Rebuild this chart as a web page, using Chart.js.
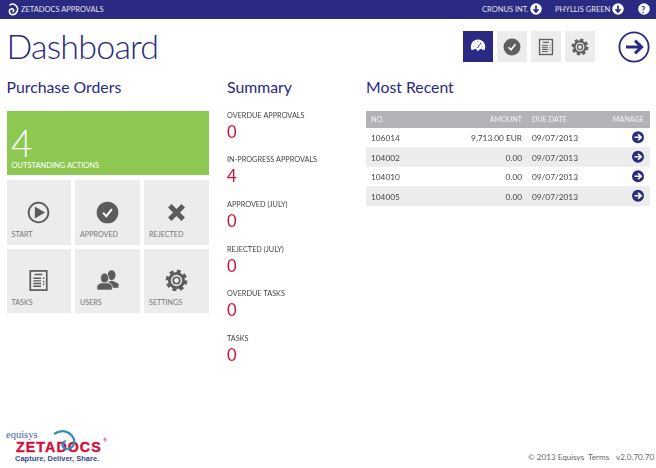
<!DOCTYPE html>
<html><head><meta charset="utf-8">
<script src="https://cdn.jsdelivr.net/npm/chart.js@4"></script>
<style>
html,body{margin:0;padding:0;background:#fff;width:656px;height:468px;overflow:hidden;font-family:Lato,"Open Sans",sans-serif}
.a{position:absolute;white-space:nowrap;line-height:1}
.bar{left:0;top:0;width:656px;height:18.5px;background:#2a2a82}
.nav{color:#e4e4f2;font-size:7.5px;top:5.5px}
.h{color:#2a2a82;font-size:15.8px;top:79.3px}
.tile{background:#ececec}
.tl{color:#777;font-size:7.2px}
canvas{position:absolute;display:block}
svg{position:absolute;overflow:visible}
</style></head><body>
<svg width="0" height="0" style="position:absolute">
<defs>
<symbol id="play" viewBox="-12 -12 24 24"><circle r="10.3" fill="none" stroke="currentColor" stroke-width="1.9"/><path d="M-3.8-6.2 6.8 0-3.8 6.2Z" fill="currentColor"/></symbol>
<symbol id="check" viewBox="-12 -12 24 24"><circle r="11.3" fill="currentColor"/><path d="M-4.6.3-1.3 3.8 4.6-3.6" fill="none" stroke="#fff" stroke-width="2.1"/></symbol>
<symbol id="cross" viewBox="-12 -12 24 24"><path d="M-7-7 7 7M7-7-7 7" stroke="currentColor" stroke-width="5.2" fill="none"/></symbol>
<symbol id="doc" viewBox="-12 -12 24 24"><rect x="-8.6" y="-10" width="17.2" height="20" fill="none" stroke="currentColor" stroke-width="1.8"/><path d="M-4-6.2H4M-5.4-2.4H2.6M-5.4.4H2.6M-5.4 3.2H2.6M-5.4 6H2.6M4.6-2.4H6M4.6 1H6M4.6 4H6" stroke="currentColor" stroke-width="1.5" fill="none"/></symbol>
<symbol id="users" viewBox="-12 -12 24 24"><ellipse cx="4.3" cy="-5.6" rx="4" ry="5.2" fill="currentColor"/><path d="M1 2Q3-1 7 1L11.5 3.5V7.5H3Z" fill="currentColor"/><ellipse cx="-3" cy="-2.4" rx="4.3" ry="5.3" fill="currentColor" stroke="#ececec" stroke-width=".8"/><path d="M-11 10V6Q-11 3.6-6.5 2.4H.5Q5 3.6 5 6V10Z" fill="currentColor" stroke="#ececec" stroke-width=".8"/></symbol>
<symbol id="gear" viewBox="-12 -12 24 24"><circle r="9.7" fill="none" stroke="currentColor" stroke-width="3.2" stroke-dasharray="4.2 3.42"/><circle r="7.4" fill="none" stroke="currentColor" stroke-width="3"/><circle r="3.4" fill="none" stroke="currentColor" stroke-width="1.8"/></symbol>
<symbol id="gauge" viewBox="-12 -12 24 24"><path d="M-8.5 5.5A9.6 9.6 0 1 1 8.5 5.5L3 3.8 0 7-3 3.8Z" fill="#fff"/><path d="M-1 2.8 4-4" stroke="#2a2a82" stroke-width="1.3"/><path d="M-6 0.5-5 1M6 .5 5 1M0-6.5V-5.2M-4.4-4.4-3.6-3.6M4.4-4.4 3.6-3.6" stroke="#2a2a82" stroke-width="1"/></symbol>
<symbol id="dn" viewBox="-12 -12 24 24"><circle r="11.5" fill="#fff"/><path d="M0-7V4M-5 .5 0 6 5 .5" fill="none" stroke="#2a2a82" stroke-width="3.4"/></symbol>
</defs></svg>

<div class="a bar"></div>
<svg style="left:7px;top:3px" width="12" height="13" viewBox="0 0 12 13"><path d="M2.5 2.3Q6 -.5 9.4 3 M9.4 3C12 6 10 11.5 5.8 11.7 1.5 11.5 1.2 6.4 4.8 5.8 7 5.8 7.4 8.6 5.4 8.7" fill="none" stroke="#fff" stroke-width="1.5"/></svg>
<div class="a nav" style="left:21px">ZETADOCS APPROVALS</div>
<div class="a nav" style="left:482px">CRONUS INT.</div>
<svg style="left:530px;top:3px;color:#fff" width="12" height="12"><use href="#dn" width="12" height="12"/></svg>
<div class="a nav" style="left:555px">PHYLLIS GREEN</div>
<svg style="left:612px;top:3px" width="12" height="12"><use href="#dn" width="12" height="12"/></svg>
<svg style="left:637.5px;top:3px" width="12" height="12" viewBox="-6 -6 12 12"><circle r="5.8" fill="#fff"/></svg>
<div class="a" style="left:641px;top:4.5px;color:#2a2a82;font-size:9.5px;font-weight:700">?</div>

<div class="a" style="left:6.5px;top:29px;font-size:34px;letter-spacing:-.8px;color:#2a2a82;font-weight:300;">Dashboard</div>

<div class="a" style="left:463px;top:31px;width:30px;height:31px;background:#2a2a82"></div>
<svg style="left:469px;top:37px" width="18" height="18"><use href="#gauge" width="18" height="18"/></svg>
<div class="a tile" style="left:497px;top:31px;width:30px;height:31px"></div>
<svg style="left:503px;top:38px;color:#5f5f5f" width="18" height="18"><use href="#check" width="18" height="18"/></svg>
<div class="a tile" style="left:531px;top:31px;width:30px;height:31px"></div>
<svg style="left:537px;top:38px;color:#5f5f5f" width="18" height="18"><use href="#doc" width="18" height="18"/></svg>
<div class="a tile" style="left:565px;top:31px;width:30px;height:31px"></div>
<svg style="left:571px;top:38px;color:#5f5f5f" width="18" height="18"><use href="#gear" width="18" height="18"/></svg>
<svg style="left:618px;top:31px" width="32" height="32" viewBox="-16 -16 32 32"><circle r="14.6" fill="none" stroke="#2a2a82" stroke-width="1.8"/><path d="M-8 0H7M1-6.4 7.6 0 1 6.4" fill="none" stroke="#2a2a82" stroke-width="3"/></svg>

<div class="a h" style="left:6.5px">Purchase Orders</div>
<div class="a h" style="left:227px">Summary</div>
<div class="a h" style="left:366px">Most Recent</div>

<div class="a" style="left:6.5px;top:111px;width:202px;height:64px;background:#8dc853"></div>
<div class="a" style="left:11px;top:123.5px;font-size:37px;color:#fff;font-weight:300">4</div>
<div class="a" style="left:11.5px;top:162px;font-size:7.5px;color:#fff">OUTSTANDING ACTIONS</div>
<div id="tiles"></div>

<canvas id="summary" style="left:227px;top:92px" width="130" height="269"></canvas>
<canvas id="recent" style="left:366px;top:111px" width="284" height="95"></canvas>

<div class="a" style="left:6px;top:429.5px;font-family:'Liberation Serif',serif;font-size:10.5px;color:#3a5fa8">equisys</div>
<div class="a" style="left:16px;top:439.5px;font-family:'Liberation Sans',sans-serif;font-weight:700;font-size:14.2px;color:#d0103a;letter-spacing:1.1px;-webkit-text-stroke:.4px #d0103a">ZETADOCS</div>
<svg style="left:53px;top:430px" width="26" height="22" viewBox="0 0 26 22"><path d="M1 4Q9-1 16 3 24 9 20 16 15 22 10 17 8 12 13 11" fill="none" stroke="#2d8fb8" stroke-width="2.2"/></svg>
<div class="a" style="left:103px;top:438px;font-size:5px;color:#d0103a">®</div>
<div class="a" style="left:15px;top:455px;font-family:'Liberation Sans',sans-serif;font-weight:700;font-size:7.5px;color:#3a4a8a">Capture, Deliver, Share.</div>
<div class="a" style="left:528px;top:453px;font-size:8.1px;color:#666">© 2013 Equisys</div>
<div class="a" style="left:588px;top:453px;font-size:8.1px;color:#666">Terms</div>
<div class="a" style="left:616px;top:453px;font-size:8.1px;color:#666">v2.0.70.70</div>

<script>
const tileLabels = ['START','APPROVED','REJECTED','TASKS','USERS','SETTINGS'];
const tileIcons = ['play','check','cross','doc','users','gear'];
const summaryLabels = ['OVERDUE APPROVALS','IN-PROGRESS APPROVALS','APPROVED (JULY)','REJECTED (JULY)','OVERDUE TASKS','TASKS'];
const summaryValues = [0,4,0,0,0,0];
const recentHeaders = ['NO.','AMOUNT','DUE DATE','MANAGE'];
const orderNumbers = ['106014','104002','104010','104005'];
const orderAmounts = ['9,713.00 EUR','0.00','0.00','0.00'];
const orderDueDates = ['09/07/2013','09/07/2013','09/07/2013','09/07/2013'];
const rowBands = [1,1,1,1];

const FONT = 'Lato,"Open Sans",sans-serif';
const tilesEl = document.getElementById('tiles');
const colX = [6.5,75,144], rowY = [180,248.5];
tileLabels.forEach((t,i)=>{
  const x = colX[i%3], y = rowY[Math.floor(i/3)];
  tilesEl.insertAdjacentHTML('beforeend',
   `<div class="a tile" style="left:${x}px;top:${y}px;width:64.5px;height:64.5px"></div>
    <svg style="left:${x+20.5}px;top:${y+20.5}px;color:#5c5c5c" width="23" height="23"><use href="#${tileIcons[i]}" width="23" height="23"/></svg>
    <div class="a tl" style="left:${x+5}px;top:${y+50.8}px">${t}</div>`);
});

Chart.defaults.animation = false;
Chart.defaults.responsive = false;
Chart.defaults.devicePixelRatio = 1;
const noMargins = s => { s.paddingTop = 0; s.paddingBottom = 0; s.width = 0; };

const summaryValuePlugin = {
  id:'summaryValues',
  afterDatasetsDraw(chart){
    const {ctx} = chart, meta = chart.getDatasetMeta(0);
    ctx.save();
    ctx.fillStyle = '#d0103a';
    ctx.font = '16.5px '+FONT;
    ctx.textBaseline = 'middle';
    meta.data.forEach((el,i)=>ctx.fillText(String(summaryValues[i]), chart.scales.x.getPixelForValue(0), el.y+17));
    ctx.restore();
  }
};
new Chart(document.getElementById('summary'),{
  type:'bar',
  data:{labels:summaryLabels,datasets:[{label:'Summary',data:summaryValues,backgroundColor:'rgba(0,0,0,0)'}]},
  options:{
    indexAxis:'y',
    layout:{padding:{top:1}},
    plugins:{legend:{display:false},tooltip:{enabled:false}},
    scales:{
      x:{display:false,min:0,max:10},
      y:{afterFit:noMargins,grid:{display:false,drawTicks:false,tickLength:0},border:{display:false},
         ticks:{mirror:true,padding:0,z:1,color:'#444',font:{family:FONT,size:7.3}}}
    }
  },
  plugins:[summaryValuePlugin]
});

const AMOUNT_X = 156, DATE_X = 166, MANAGE_X = 278;
const recentPlugin = {
  id:'recentTable',
  afterDatasetsDraw(chart){
    const {ctx,chartArea:a} = chart, meta = chart.getDatasetMeta(0);
    ctx.save();
    ctx.fillStyle = '#b1b3b6';
    ctx.fillRect(a.left,0,a.right-a.left,a.top);
    ctx.textBaseline='middle';
    ctx.fillStyle='#f4f4f4';
    ctx.font='7.2px '+FONT;
    ctx.textAlign='left';  ctx.fillText(recentHeaders[0],5,a.top/2);
    ctx.textAlign='right'; ctx.fillText(recentHeaders[1],AMOUNT_X,a.top/2);
    ctx.textAlign='left';  ctx.fillText(recentHeaders[2],DATE_X,a.top/2);
    ctx.textAlign='right'; ctx.fillText(recentHeaders[3],MANAGE_X,a.top/2);
    ctx.font='8.3px '+FONT;
    meta.data.forEach((el,i)=>{
      ctx.fillStyle='#444';
      ctx.textAlign='right'; ctx.fillText(orderAmounts[i],AMOUNT_X,el.y+1);
      ctx.textAlign='left';  ctx.fillText(orderDueDates[i],DATE_X,el.y+1);
      const cx = MANAGE_X-6, cy = el.y-0.5;
      ctx.fillStyle='#2a2a82';
      ctx.beginPath(); ctx.arc(cx,cy,6,0,Math.PI*2); ctx.fill();
      ctx.strokeStyle='#fff'; ctx.lineWidth=1.7;
      ctx.beginPath(); ctx.moveTo(cx-3.5,cy); ctx.lineTo(cx+3,cy);
      ctx.moveTo(cx,cy-3); ctx.lineTo(cx+3.2,cy); ctx.lineTo(cx,cy+3); ctx.stroke();
    });
    ctx.restore();
  }
};
new Chart(document.getElementById('recent'),{
  type:'bar',
  data:{labels:orderNumbers,datasets:[{label:'Most Recent',data:rowBands,
    backgroundColor:['#ffffff','#ececec','#ffffff','#ececec'],barPercentage:1,categoryPercentage:1}]},
  options:{
    indexAxis:'y',
    layout:{padding:{top:17}},
    plugins:{legend:{display:false},tooltip:{enabled:false}},
    scales:{
      x:{display:false,min:0,max:1},
      y:{afterFit:noMargins,grid:{display:false,drawTicks:false,tickLength:0},border:{display:false},
         ticks:{mirror:true,padding:5,labelOffset:1,z:1,color:'#444',font:{family:FONT,size:8.3}}}
    }
  },
  plugins:[recentPlugin]
});
</script>
</body></html>
